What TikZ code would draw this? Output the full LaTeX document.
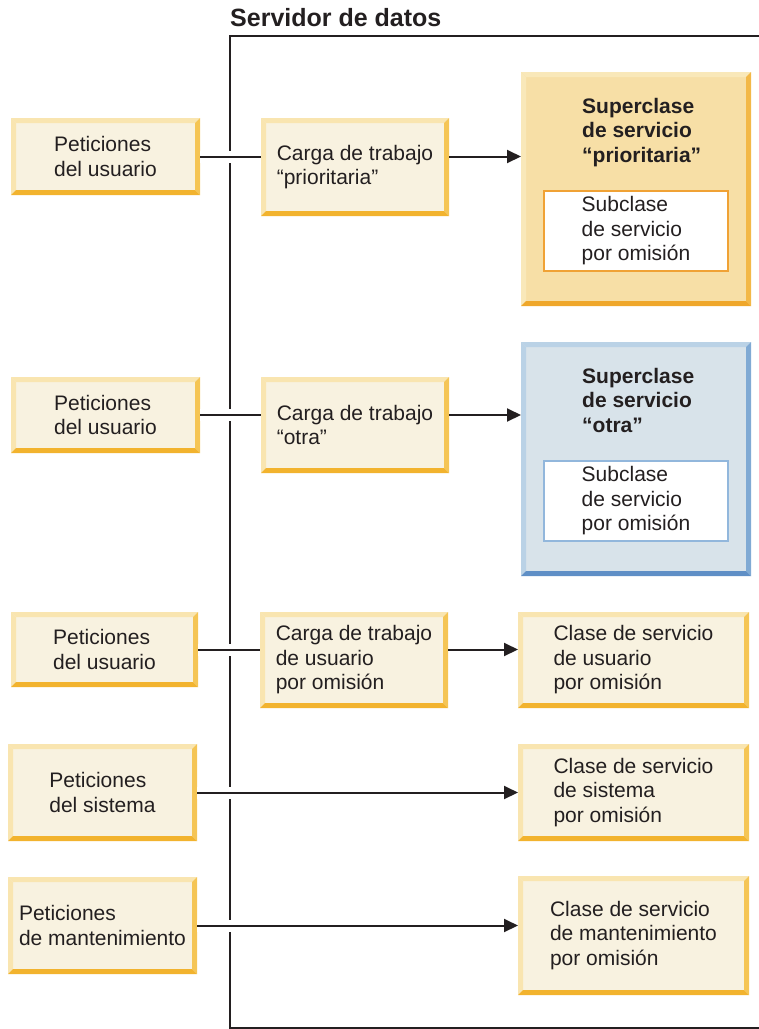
\documentclass[tikz,border=0pt]{standalone}
\usepackage{fontspec}
\setmainfont{Liberation Sans}
\usetikzlibrary{arrows.meta}
\definecolor{ink}{HTML}{231F20}
\definecolor{crfill}{HTML}{F8F2E0}
\definecolor{crlight}{HTML}{F9E5B0}
\definecolor{crright}{HTML}{F5C555}
\definecolor{crbottom}{HTML}{F2B32E}
\definecolor{prfill}{HTML}{F7DFA6}
\definecolor{prlight}{HTML}{F9E8B9}
\definecolor{prright}{HTML}{F3B847}
\definecolor{prbottom}{HTML}{EFA72A}
\definecolor{prline}{HTML}{F0A235}
\definecolor{otfill}{HTML}{D8E3EA}
\definecolor{otlight}{HTML}{BAD2E6}
\definecolor{otright}{HTML}{80AAD4}
\definecolor{otbottom}{HTML}{5F8FC6}
\definecolor{otline}{HTML}{92B7DC}
\tikzset{
  bevel/.style n args={4}{fill=#1, draw=none, inner sep=0pt, outer sep=0pt, align=left,
    path picture={
      \fill[#2] (path picture bounding box.north west) -- (path picture bounding box.north east)
        -- ([shift={(-5pt,-5pt)}]path picture bounding box.north east)
        -- ([shift={(5pt,-5pt)}]path picture bounding box.north west) -- cycle;
      \fill[#2] (path picture bounding box.north west) -- ([shift={(5pt,-5pt)}]path picture bounding box.north west)
        -- ([shift={(5pt,5pt)}]path picture bounding box.south west)
        -- (path picture bounding box.south west) -- cycle;
      \fill[#3] (path picture bounding box.north east) -- (path picture bounding box.south east)
        -- ([shift={(-5pt,5pt)}]path picture bounding box.south east)
        -- ([shift={(-5pt,-5pt)}]path picture bounding box.north east) -- cycle;
      \fill[#4] (path picture bounding box.south west) -- (path picture bounding box.south east)
        -- ([shift={(-5pt,5pt)}]path picture bounding box.south east)
        -- ([shift={(5pt,5pt)}]path picture bounding box.south west) -- cycle;
    }},
  cbox/.style={bevel={crfill}{crlight}{crright}{crbottom}},
  pbox/.style={bevel={prfill}{prlight}{prright}{prbottom}},
  obox/.style={bevel={otfill}{otlight}{otright}{otbottom}},
  subp/.style={fill=white, draw=prline, line width=1.8pt, inner sep=0pt, outer sep=0pt, align=left},
  subo/.style={fill=white, draw=otline, line width=1.8pt, inner sep=0pt, outer sep=0pt, align=left},
  suptitle/.style={font=\bfseries\fontsize{21}{24.5}\selectfont, anchor=north west, align=left, inner sep=0pt},
  conn/.style={draw=ink, line width=2pt},
  gap/.style={draw=white, line width=12pt},
  arr/.style={conn, -{Triangle[length=14pt,width=13pt]}},
  frame/.style={draw=ink, line width=2pt}
}
\begin{document}
\begin{tikzpicture}[x=1pt, y=-1pt, font=\fontsize{21}{24.5}\selectfont, text=ink]
\useasboundingbox (0,0) rectangle (759,1029);

% title and frame
\node[anchor=base west, inner sep=0pt, font=\bfseries\fontsize{25}{30}\selectfont] (title) at (230,26) {Servidor de datos};
\draw[frame] (759,36) -- (230,36) -- (230,1028) -- (759,1028);

% left column
\node[cbox, minimum width=189pt, minimum height=77pt] (L1) at (105.5,156.5) {Peticiones\\del usuario};
\node[cbox, minimum width=189pt, minimum height=76pt] (L2) at (105.5,415) {Peticiones\\del usuario};
\node[cbox, minimum width=187pt, minimum height=75pt] (L3) at (104.5,649.5) {Peticiones\\del usuario};
\node[cbox, minimum width=189pt, minimum height=97pt] (L4) at (102.5,792.5) {Peticiones\\del sistema};
\node[cbox, minimum width=189pt, minimum height=97pt] (L5) at (102.5,925.5) {Peticiones\\de mantenimiento};

% middle column
\node[cbox, minimum width=188pt, minimum height=98pt] (M1) at (355,167) {Carga de trabajo\\“prioritaria”};
\node[cbox, minimum width=188pt, minimum height=96pt] (M2) at (355,425) {Carga de trabajo\\“otra”};
\node[cbox, minimum width=188pt, minimum height=96pt] (M3) at (354,660) {Carga de trabajo\\de usuario\\por omisión};

% right column
\node[pbox, minimum width=230pt, minimum height=234pt] (R1) at (636,189) {};
\node[suptitle] (R1t) at (582,98) {Superclase\\de servicio\\“prioritaria”};
\node[subp, minimum width=184pt, minimum height=80pt] (R1s) at (636,231) {Subclase\\de servicio\\por omisión};

\node[obox, minimum width=230pt, minimum height=234pt] (R2) at (636,459) {};
\node[suptitle] (R2t) at (582,368) {Superclase\\de servicio\\“otra”};
\node[subo, minimum width=184pt, minimum height=80pt] (R2s) at (636,501) {Subclase\\de servicio\\por omisión};

\node[cbox, minimum width=231pt, minimum height=96pt] (R3) at (633.5,660) {Clase de servicio\\de usuario\\por omisión};
\node[cbox, minimum width=231pt, minimum height=97pt] (R4) at (633.5,792.5) {Clase de servicio\\de sistema\\por omisión};
\node[cbox, minimum width=231pt, minimum height=119pt] (R5) at (633.5,935.5) {Clase de servicio\\de mantenimiento\\por omisión};

% connectors (white underlay makes the gap in the vertical line)
\draw[gap] (L1.east) -- (L1.east -| M1.west);
\draw[conn] (L1.east) -- (L1.east -| M1.west);
\draw[arr] (L1.east -| M1.east) -- (L1.east -| R1.west);

\draw[gap] (L2.east) -- (L2.east -| M2.west);
\draw[conn] (L2.east) -- (L2.east -| M2.west);
\draw[arr] (L2.east -| M2.east) -- (L2.east -| R2.west);

\draw[gap] (L3.east) -- (L3.east -| M3.west);
\draw[conn] (L3.east) -- (L3.east -| M3.west);
\draw[arr] (L3.east -| M3.east) -- (L3.east -| R3.west);

\draw[gap] (L4.east) -- (L4.east -| M3.west);
\draw[conn] (L4.east) -- (L4.east -| M3.west);
\draw[arr] (L4.east -| M3.west) -- (R4.west);

\draw[gap] (L5.east) -- (L5.east -| M3.west);
\draw[conn] (L5.east) -- (L5.east -| M3.west);
\draw[arr] (L5.east -| M3.west) -- (L5.east -| R5.west);
\end{tikzpicture}
\end{document}
